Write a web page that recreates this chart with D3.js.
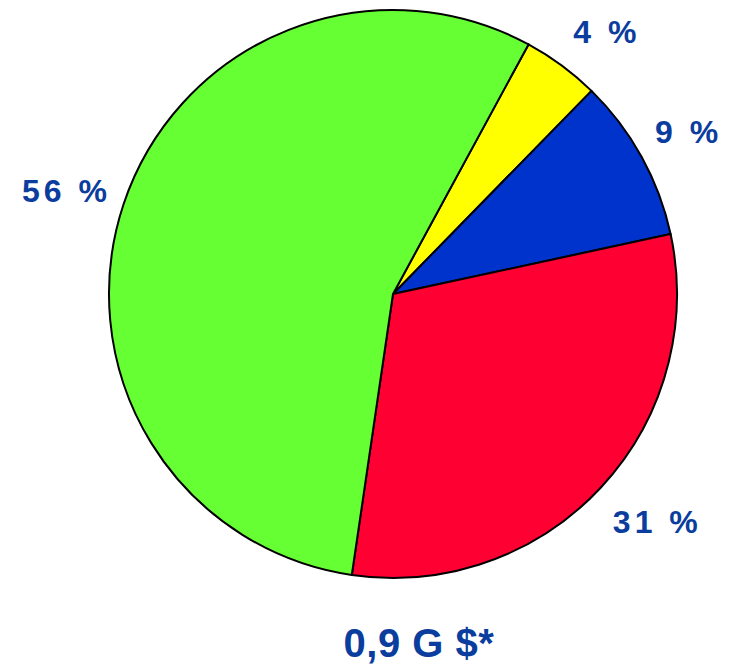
<!DOCTYPE html>
<html>
<head>
<meta charset="utf-8">
<script src="https://cdn.jsdelivr.net/npm/d3@7"></script>
<style>
  html, body { margin: 0; padding: 0; background: #ffffff; }
  svg { display: block; }
</style>
</head>
<body>
<svg id="chart" width="731" height="667"></svg>
<script>
// Data
const categories = ["A", "B", "C", "D"];
const values = [4.4, 9.3, 30.7, 55.6];
const labels = ["4 %", "9 %", "31 %", "56 %"];
const colors = ["#ffff00", "#0033cc", "#ff0033", "#66ff33"];
const totalLabel = "0,9 G $*";

const svg = d3.select("#chart");
const cx = 393, cy = 294, radius = 284, labelRadius = 340;
const start = 28.5 * Math.PI / 180;
// small layout nudges for label placement (px)
const nudge = [[10, 11], [-4, 2], [14, -5], [-6, 4]];
const fontSize = 32, capHalf = fontSize * 0.716 / 2;

const pie = d3.pie().sort(null).value(d => d)
  .startAngle(start).endAngle(start + 2 * Math.PI);
const arcs = pie(values);
const arc = d3.arc().innerRadius(0).outerRadius(radius);
const labelArc = d3.arc().innerRadius(labelRadius).outerRadius(labelRadius);

const g = svg.append("g").attr("transform", `translate(${cx},${cy})`);

g.selectAll("path.slice")
  .data(arcs)
  .join("path")
  .attr("class", "slice")
  .attr("d", arc)
  .attr("fill", (d, i) => colors[i])
  .attr("stroke", "#000")
  .attr("stroke-width", 2)
  .attr("stroke-linejoin", "round");

g.selectAll("text.lbl")
  .data(arcs)
  .join("text")
  .attr("class", "lbl")
  .attr("x", (d, i) => labelArc.centroid(d)[0] + nudge[i][0] + 2)
  .attr("y", (d, i) => labelArc.centroid(d)[1] + nudge[i][1] + capHalf)
  .attr("text-anchor", "middle")
  .attr("font-family", "Liberation Sans, Arial, sans-serif")
  .attr("font-weight", "bold")
  .attr("font-size", fontSize)
  .attr("letter-spacing", 4)
  .attr("fill", "#0b3d9e")
  .text((d, i) => labels[i]);

svg.append("text")
  .attr("x", 419)
  .attr("y", 657)
  .attr("text-anchor", "middle")
  .attr("font-family", "Liberation Sans, Arial, sans-serif")
  .attr("font-weight", "bold")
  .attr("font-size", 40)
  .attr("letter-spacing", 0.5)
  .attr("fill", "#0b3d9e")
  .text(totalLabel);
</script>
</body>
</html>
